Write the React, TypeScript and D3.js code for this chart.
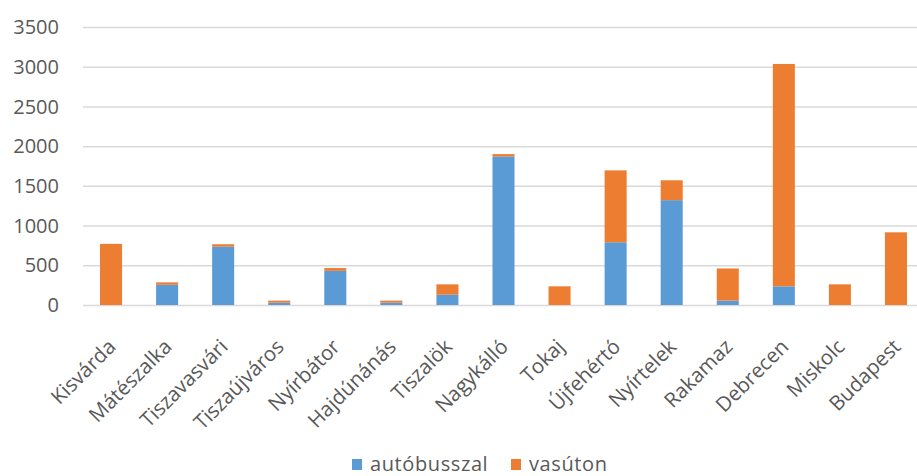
import { useRef, useEffect } from 'react';
import * as d3 from 'd3';

const categories = [
  'Kisvárda', 'Mátészalka', 'Tiszavasvári', 'Tiszaújváros', 'Nyírbátor',
  'Hajdúnánás', 'Tiszalök', 'Nagykálló', 'Tokaj', 'Újfehértó',
  'Nyírtelek', 'Rakamaz', 'Debrecen', 'Miskolc', 'Budapest',
];
const autobusszal = [0, 255, 735, 30, 430, 30, 130, 1870, 0, 790, 1320, 55, 235, 0, 0];
const vasuton = [770, 30, 30, 25, 35, 25, 130, 30, 235, 905, 250, 405, 2800, 260, 915];
const seriesNames = ['autóbusszal', 'vasúton'];
const yTicks = [0, 500, 1000, 1500, 2000, 2500, 3000, 3500];

const COLORS = ['#5B9BD5', '#ED7D31'];
const TEXT = '#595959';
const FONT = '"Open Sans", sans-serif';

export default function App() {
  const svgRef = useRef<SVGSVGElement>(null);
  const width = 917;
  const height = 476;
  const margin = { top: 27, right: -7, bottom: 171, left: 83 };

  useEffect(() => {
    if (!svgRef.current) return;
    const svg = d3.select(svgRef.current);
    svg.selectAll('*').remove();

    const innerW = width - margin.left - margin.right;
    const innerH = height - margin.top - margin.bottom;

    const x = d3.scaleBand().domain(categories).range([0, innerW]).paddingInner(0.607).paddingOuter(0.3035);
    const y = d3.scaleLinear().domain([0, 3500]).range([innerH, 0]);

    const g = svg.append('g').attr('transform', `translate(${margin.left},${margin.top})`);

    // Grid lines
    g.append('g')
      .call(d3.axisLeft(y).tickValues(yTicks).tickSize(-(width - margin.left)).tickFormat(() => ''))
      .call((s) => s.selectAll('line').attr('stroke', '#D9D9D9').attr('stroke-width', 1.5))
      .call((s) => s.select('.domain').remove());

    // Y labels
    g.append('g')
      .selectAll('text')
      .data(yTicks)
      .join('text')
      .attr('x', -24)
      .attr('y', (d) => y(d))
      .attr('dy', '0.36em')
      .attr('text-anchor', 'end')
      .attr('fill', TEXT)
      .attr('font-family', FONT)
      .attr('font-size', 20)
      .text((d) => d);

    // Stacked bars
    const rows = categories.map((c, i) => ({ cat: c, a: autobusszal[i], v: vasuton[i] }));
    const stack = d3.stack<any>().keys(['a', 'v'])(rows);
    stack.forEach((layer, li) => {
      g.append('g')
        .selectAll('rect')
        .data(layer)
        .join('rect')
        .attr('x', (d) => x(d.data.cat)!)
        .attr('width', x.bandwidth())
        .attr('y', (d) => y(d[1]))
        .attr('height', (d) => y(d[0]) - y(d[1]))
        .attr('fill', COLORS[li]);
    });

    // Category labels
    g.append('g')
      .selectAll('text')
      .data(categories)
      .join('text')
      .attr('transform', (d) => `translate(${x(d)! + x.bandwidth() / 2 + 6},${innerH + 43}) rotate(-45)`)
      .attr('text-anchor', 'end')
      .attr('fill', TEXT)
      .attr('font-family', FONT)
      .attr('font-size', 20.5)
      .text((d) => d);

    // Legend
    const legend = svg.append('g').attr('transform', 'translate(352,459)');
    const offsets = [0, 159];
    seriesNames.forEach((name, i) => {
      const item = legend.append('g').attr('transform', `translate(${offsets[i]},0)`);
      item.append('rect').attr('width', 10).attr('height', 11).attr('fill', COLORS[i]);
      item.append('text')
        .attr('x', 18)
        .attr('y', 12)
        .attr('fill', TEXT)
        .attr('font-family', FONT)
        .attr('font-size', 20)
        .attr('letter-spacing', 0.6)
        .text(name);
    });
  }, []);

  return (
    <svg
      ref={svgRef}
      width={width}
      height={height}
      style={{ position: 'absolute', left: 0, top: 0, background: '#fff' }}
    />
  );
}
